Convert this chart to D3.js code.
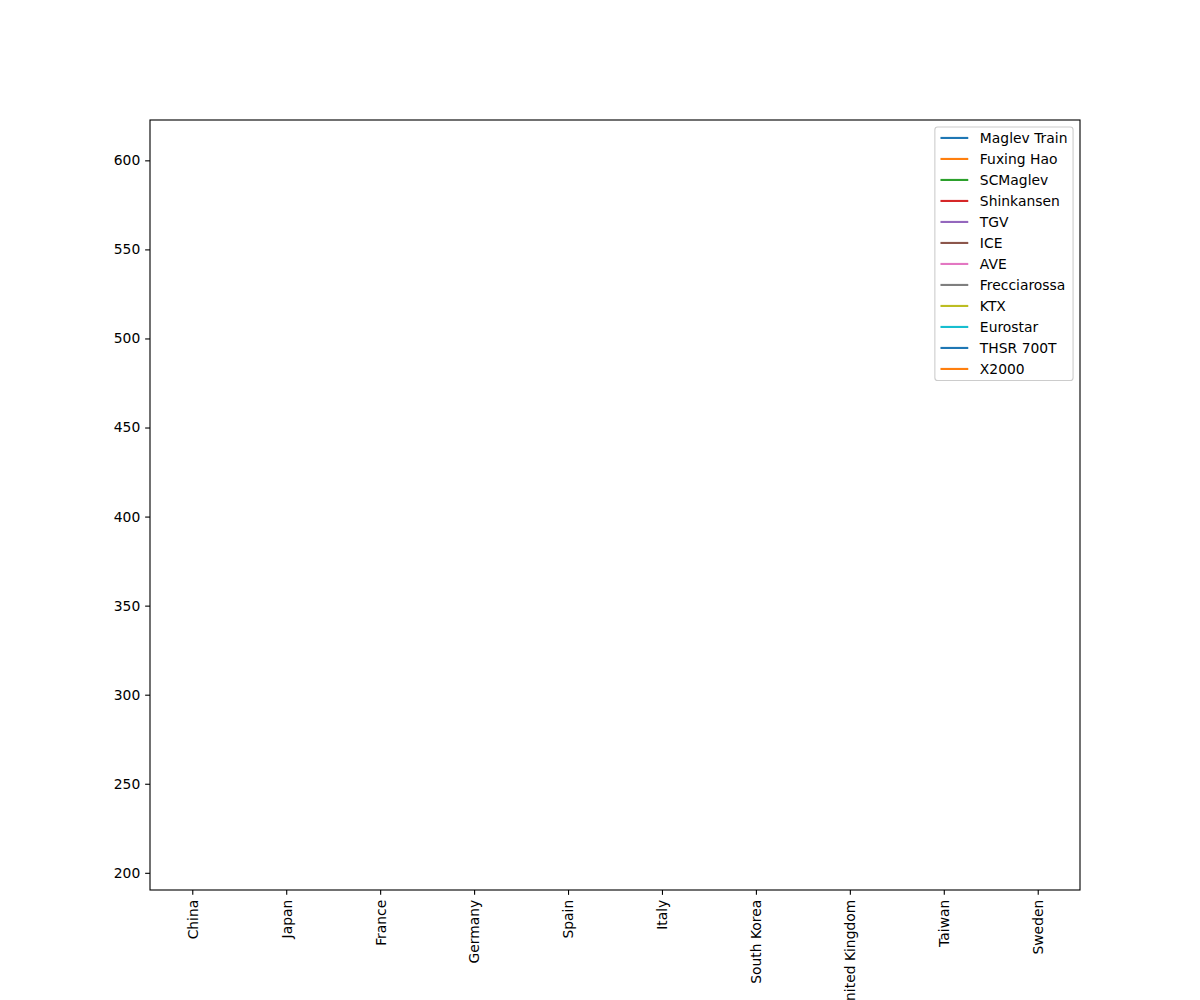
<!DOCTYPE html>
<html>
<head>
<meta charset="utf-8">
<script src="https://cdn.jsdelivr.net/npm/d3@7"></script>
<style>
    body { margin: 0; background: #fff; }
    svg text { font-family: 'DejaVu Sans', sans-serif; font-size: 13.89px; fill: #000; }
</style>
</head>
<body>
<div id="chart"></div>
<script>
// Country axis, one category per tick.
var countries = [ 'China', 'Japan', 'France', 'Germany', 'Spain', 'Italy',
    'South Korea', 'United Kingdom', 'Taiwan', 'Sweden' ];

// Each train is one series with a single point (so the lines draw nothing).
var trains = [ 'Maglev Train', 'Fuxing Hao', 'SCMaglev', 'Shinkansen', 'TGV', 'ICE',
    'AVE', 'Frecciarossa', 'KTX', 'Eurostar', 'THSR 700T', 'X2000' ];
var trainCountry = [ 'China', 'China', 'Japan', 'Japan', 'France', 'Germany',
    'Spain', 'Italy', 'South Korea', 'United Kingdom', 'Taiwan', 'Sweden' ];
var topSpeed = [ 431, 350, 603, 320, 320, 330, 310, 360, 305, 300, 300, 210 ];

var yTicks = [ 200, 250, 300, 350, 400, 450, 500, 550, 600 ];

var tab10 = [ '#1f77b4', '#ff7f0e', '#2ca02c', '#d62728', '#9467bd',
    '#8c564b', '#e377c2', '#7f7f7f', '#bcbd22', '#17becf' ];

var width = 1200,
    height = 1000,
    margin = { top: 120, right: 120, bottom: 110, left: 150 },
    tickLen = 4.86,
    tickPad = 4.86;

var svg = d3.select( '#chart' )
    .append( 'svg' )
    .attr( 'width', width )
    .attr( 'height', height );

var x = d3.scalePoint()
    .domain( countries )
    .range( [ margin.left, width - margin.right ] )
    .padding( 0.45 );

var yMin = d3.min( topSpeed ),
    yMax = d3.max( topSpeed ),
    yPad = ( yMax - yMin ) * 0.05;

var y = d3.scaleLinear()
    .domain( [ yMin - yPad, yMax + yPad ] )
    .range( [ height - margin.bottom, margin.top ] );

// Series lines (single point each).
var line = d3.line()
    .x( d => x( d.country ) )
    .y( d => y( d.value ) );

svg.append( 'g' )
    .selectAll( 'path' )
    .data( trains.map( ( t, i ) => ( { name: t, color: tab10[i % 10],
        points: [ { country: trainCountry[i], value: topSpeed[i] } ] } ) ) )
    .join( 'path' )
        .attr( 'd', d => line( d.points ) )
        .attr( 'fill', 'none' )
        .attr( 'stroke', d => d.color )
        .attr( 'stroke-width', 2.08 );

// Axes.
var xAxis = svg.append( 'g' )
    .attr( 'transform', 'translate(0,' + ( height - margin.bottom ) + ')' )
    .call( d3.axisBottom( x ).tickSize( tickLen ).tickPadding( 0 ) );
xAxis.select( '.domain' ).remove();
xAxis.selectAll( 'line' ).attr( 'stroke', '#000' ).attr( 'stroke-width', 1.11 );
xAxis.selectAll( 'text' )
    .attr( 'transform', 'rotate(-90)' )
    .attr( 'x', -( tickLen + tickPad ) )
    .attr( 'y', 0 )
    .attr( 'dy', '0.35em' )
    .attr( 'text-anchor', 'end' );

var yAxis = svg.append( 'g' )
    .attr( 'transform', 'translate(' + margin.left + ',0)' )
    .call( d3.axisLeft( y ).tickValues( yTicks ).tickSize( tickLen ).tickPadding( tickPad ) );
yAxis.select( '.domain' ).remove();
yAxis.selectAll( 'line' ).attr( 'stroke', '#000' ).attr( 'stroke-width', 1.11 );
xAxis.attr( 'font-size', null ).attr( 'font-family', null );
yAxis.attr( 'font-size', null ).attr( 'font-family', null );

// Frame.
svg.append( 'rect' )
    .attr( 'x', margin.left )
    .attr( 'y', margin.top )
    .attr( 'width', width - margin.left - margin.right )
    .attr( 'height', height - margin.top - margin.bottom )
    .attr( 'fill', 'none' )
    .attr( 'stroke', '#000' )
    .attr( 'stroke-width', 1.11 );

// Legend, upper right.
var legendRight = width - margin.right - 6.94,
    legendTop = margin.top + 6.94,
    rowH = 21,
    legend = svg.append( 'g' );

var legendBox = legend.append( 'rect' )
    .attr( 'fill', 'rgba(255,255,255,0.8)' )
    .attr( 'stroke', '#cccccc' )
    .attr( 'stroke-width', 1.1 )
    .attr( 'rx', 2.8 );

var rows = legend.selectAll( 'g.row' )
    .data( trains )
    .join( 'g' )
        .attr( 'class', 'row' );

var labels = rows.append( 'text' )
    .text( d => d )
    .attr( 'dy', '0.35em' );

var maxW = d3.max( labels.nodes(), n => n.getComputedTextLength() );
var boxW = 45 + maxW + 5.6,
    boxLeft = legendRight - boxW;

rows.attr( 'transform', ( d, i ) => 'translate(' + boxLeft + ',' + ( legendTop + 11 + i * rowH ) + ')' );
rows.append( 'line' )
    .attr( 'x1', 5.6 )
    .attr( 'x2', 33.4 )
    .attr( 'stroke', ( d, i ) => tab10[i % 10] )
    .attr( 'stroke-width', 2.08 );
labels.attr( 'x', 45 );

legendBox
    .attr( 'x', boxLeft )
    .attr( 'y', legendTop )
    .attr( 'width', boxW )
    .attr( 'height', 11 + ( trains.length - 1 ) * rowH + 11.5 );
</script>
</body>
</html>
